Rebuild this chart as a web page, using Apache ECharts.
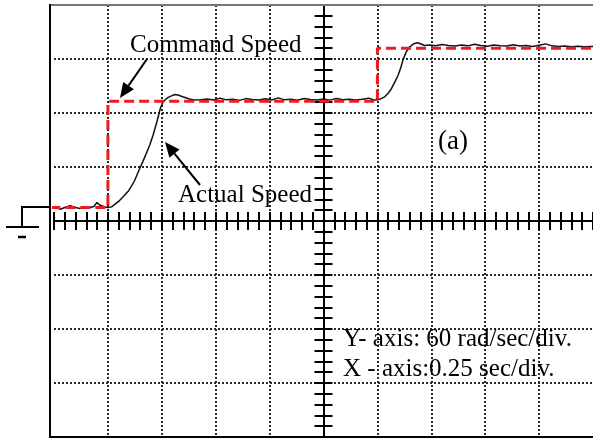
<!DOCTYPE html>
<html style="height: 100%">
<head>
    <meta charset="utf-8">
</head>
<body style="height: 100%; margin: 0; background: #fff">
    <div id="container" style="width: 593px; height: 439px"></div>
    <script type="text/javascript" src="https://cdn.jsdelivr.net/npm/echarts@6/dist/echarts.min.js"></script>
<script type="text/javascript">
    // time in seconds (0 = screen centre), speed in rad/s
    var cmdTime = [-1.267, -1.0, -1.0, 0.25, 0.25, 1.27];
    var cmdSpeed = [0, 0, 118, 118, 177, 177];

    var actTime = [-1.267, -1.24, -1.221, -1.2, -1.175, -1.15, -1.129, -1.1, -1.083, -1.065, -1.051, -1.04, -1.032, -1.015, -1.0, -0.983,
        -0.965, -0.945, -0.925, -0.906, -0.89, -0.876, -0.853, -0.838, -0.822, -0.805, -0.791, -0.773, -0.757, -0.745, -0.733, -0.722, -0.705, -0.69, -0.675, -0.653, -0.622, -0.6,
        -0.57, -0.54, -0.51, -0.48, -0.45, -0.42, -0.39, -0.36, -0.33, -0.30, -0.27, -0.24, -0.21, -0.18, -0.15, -0.12, -0.09, -0.06, -0.03, 0, 0.03, 0.06, 0.09, 0.12, 0.15, 0.18, 0.21, 0.23, 0.244,
        0.26, 0.284, 0.3, 0.315, 0.33, 0.346, 0.358, 0.369, 0.384, 0.4, 0.419, 0.435, 0.446, 0.469,
        0.49, 0.52, 0.55, 0.58, 0.61, 0.64, 0.67, 0.70, 0.73, 0.76, 0.79, 0.82, 0.85, 0.88, 0.91, 0.94, 0.97, 1.0, 1.03, 1.06, 1.09, 1.12, 1.15, 1.18, 1.21, 1.24, 1.27];
    var actSpeed = [0, 0.5, -2, 0, 2, 0, -1, 1, 0, 1, 5.5, 3, 1.5, 0.5, 0, 0.7,
        4, 8, 13, 18, 24, 30, 43, 51, 60, 70, 80, 95, 110, 117, 120, 122, 124, 125.5, 125, 123, 120.5, 119.5,
        119.8, 120.5, 119.5, 121.5, 119.6, 120.2, 119, 121, 120, 119.4, 120.8, 119.5, 121.8, 119.6, 120.3, 119.2, 121, 120, 119.5, 120.6, 119.3, 121.2, 119.8, 120.4, 119.5, 120.2, 121.5, 119.8, 119.5,
        120.2, 123, 127, 132, 139, 147, 155, 164, 173, 178.5, 182, 183, 182.2, 180,
        180.5, 179.8, 181.2, 180, 179.5, 180.6, 179.6, 181.5, 180, 179.2, 180.5, 179.8, 179.4, 180.8, 179.5, 180, 179, 180.2, 181.8, 179.6, 178.8, 179.5, 178.5, 179.2, 178.6, 179, 178.5];

    var cmdData = [];
    for (var i = 0; i < cmdTime.length; i++) cmdData.push([cmdTime[i], cmdSpeed[i]]);
    var actData = [];
    for (var j = 0; j < actTime.length; j++) actData.push([actTime[j], actSpeed[j]]);

    var dom = document.getElementById("container");
    var myChart = echarts.init(dom);
    var serif = "'Liberation Serif', 'Times New Roman', serif";

    function line(x1, y1, x2, y2, w, c) {
        return {type: 'line', shape: {x1: x1, y1: y1, x2: x2, y2: y2}, style: {stroke: c || '#000', lineWidth: w}, z: 10};
    }
    function arrow(x1, y1, x2, y2) {
        var dx = x2 - x1, dy = y2 - y1, len = Math.sqrt(dx * dx + dy * dy);
        var ux = dx / len, uy = dy / len, hl = 15, hw = 6.5;
        var bx = x2 - ux * hl, by = y2 - uy * hl;
        return [
            line(x1, y1, bx, by, 2),
            {type: 'polygon', shape: {points: [[x2, y2], [bx - uy * hw, by + ux * hw], [bx + uy * hw, by - ux * hw]]}, style: {fill: '#000'}, z: 10}
        ];
    }
    function label(text, x, y, size) {
        return {type: 'text', x: x, y: y, z: 10, style: {text: text, fill: '#000', font: size + 'px ' + serif, verticalAlign: 'middle'}};
    }

    var graphics = [
        line(50, 5, 593, 5, 2, '#777'),
        line(50, 4, 50, 438, 2),
        line(50, 437, 593, 437, 2),
        {type: 'polyline', shape: {points: [[50, 207], [22, 207], [22, 227]]}, style: {stroke: '#000', lineWidth: 2, fill: null}, z: 10},
        line(6, 227, 39, 227, 2),
        line(18, 237, 26, 237, 2.5),
        label('Command Speed', 130, 45, 25),
        label('Actual Speed', 178, 195, 25),
        label('(a)', 438, 142, 27),
        label('Y- axis: 60 rad/sec/div.', 343, 339, 25),
        label('X - axis:0.25 sec/div.', 343, 369, 25)
    ].concat(arrow(147, 59, 120, 98), arrow(200, 185, 165, 142));

    var gridLine = {show: true, showMinLine: false, showMaxLine: false, lineStyle: {color: '#2a2a2a', width: 2, type: [2, 2]}};
    var tickAxis = {
        type: 'value', axisLabel: {show: false}, splitLine: {show: false},
        axisLine: {onZero: true, onZeroAxisIndex: 0, lineStyle: {color: '#000', width: 2}},
        axisTick: {inside: true, length: 9, lineStyle: {color: '#000', width: 2}}
    };

    myChart.setOption({
        animation: false,
        backgroundColor: '#fff',
        grid: {left: 54, top: 5, width: 542, height: 432, show: false},
        graphic: graphics,
        xAxis: [
            {type: 'value', min: -1.25, max: 1.25, interval: 0.25, axisLine: {show: false}, axisTick: {show: false}, axisLabel: {show: false}, splitLine: gridLine},
            Object.assign({}, tickAxis, {position: 'bottom', min: -1.25, max: 1.25, interval: 0.05}),
            Object.assign({}, tickAxis, {position: 'top', min: -1.25, max: 1.25, interval: 0.05})
        ],
        yAxis: [
            {type: 'value', min: -240, max: 240, interval: 60, axisLine: {show: false}, axisTick: {show: false}, axisLabel: {show: false}, splitLine: gridLine},
            Object.assign({}, tickAxis, {position: 'left', min: -240, max: 240, interval: 12}),
            Object.assign({}, tickAxis, {position: 'right', min: -240, max: 240, interval: 12}),
            // signal channel: ground marker sits a little above the centre line
            {type: 'value', min: -255, max: 225, show: false}
        ],
        series: [
            {
                name: 'Actual Speed',
                type: 'line',
                xAxisIndex: 0,
                yAxisIndex: 3,
                data: actData,
                symbol: 'none',
                clip: false,
                lineStyle: {color: '#111', width: 1.5},
                z: 3
            },
            {
                name: 'Command Speed',
                type: 'line',
                xAxisIndex: 0,
                yAxisIndex: 3,
                data: cmdData,
                symbol: 'none',
                clip: false,
                lineStyle: {color: '#ee1c1c', width: 3, type: [10, 5]},
                z: 4
            }
        ]
    });
</script>
</body>
</html>
